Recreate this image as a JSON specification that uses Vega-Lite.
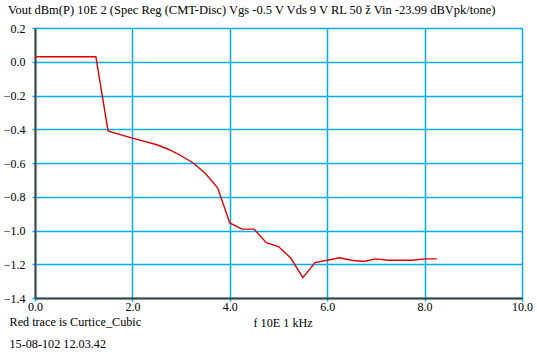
{
  "$schema": "https://vega.github.io/schema/vega-lite/v6.json",
  "width": 487,
  "height": 270,
  "autosize": "none",
  "padding": {"left": 35, "top": 28, "right": 15, "bottom": 59},
  "background": "white",
  "config": {
    "font": "Liberation Serif",
    "view": {"stroke": null},
    "axis": {
      "labelFont": "Liberation Serif",
      "labelFontSize": 12,
      "labelColor": "black",
      "titleFont": "Liberation Serif",
      "titleFontSize": 12.2,
      "titleFontWeight": "normal",
      "titleColor": "black",
      "grid": true,
      "gridColor": "#00aeef",
      "gridWidth": 1.5,
      "gridOpacity": 1,
      "domainColor": "#404040",
      "domainWidth": 2,
      "tickColor": "#00aeef",
      "tickWidth": 1.5,
      "tickSize": 3
    }
  },
  "title": {
    "text": "Vout dBm(P) 10E 2 (Spec Reg (CMT-Disc) Vgs -0.5 V Vds 9 V RL 50 ž Vin -23.99 dBVpk/tone)",
    "anchor": "start",
    "frame": "group",
    "dx": -27,
    "dy": 16,
    "offset": 12,
    "baseline": "alphabetic",
    "font": "Liberation Serif",
    "fontSize": 12.5,
    "fontWeight": "normal",
    "color": "black"
  },
  "data": {
    "values": [
      {"f": 0.0, "vout": 0.03},
      {"f": 0.25, "vout": 0.03},
      {"f": 0.5, "vout": 0.03},
      {"f": 0.75, "vout": 0.03},
      {"f": 1.0, "vout": 0.03},
      {"f": 1.25, "vout": 0.03},
      {"f": 1.5, "vout": -0.41},
      {"f": 1.75, "vout": -0.432},
      {"f": 2.0, "vout": -0.453},
      {"f": 2.25, "vout": -0.472},
      {"f": 2.5, "vout": -0.492},
      {"f": 2.75, "vout": -0.52},
      {"f": 3.0, "vout": -0.557},
      {"f": 3.25, "vout": -0.6},
      {"f": 3.5, "vout": -0.662},
      {"f": 3.75, "vout": -0.747},
      {"f": 4.0, "vout": -0.955},
      {"f": 4.25, "vout": -0.992},
      {"f": 4.5, "vout": -0.992},
      {"f": 4.75, "vout": -1.072},
      {"f": 5.0, "vout": -1.095},
      {"f": 5.25, "vout": -1.163},
      {"f": 5.5, "vout": -1.279},
      {"f": 5.75, "vout": -1.19},
      {"f": 6.0, "vout": -1.176},
      {"f": 6.25, "vout": -1.162},
      {"f": 6.5, "vout": -1.176},
      {"f": 6.75, "vout": -1.184},
      {"f": 7.0, "vout": -1.168},
      {"f": 7.25, "vout": -1.176},
      {"f": 7.5, "vout": -1.176},
      {"f": 7.75, "vout": -1.176},
      {"f": 8.0, "vout": -1.168},
      {"f": 8.25, "vout": -1.168}
    ]
  },
  "mark": {"type": "line", "color": "#e00000", "strokeWidth": 1.4, "clip": true},
  "encoding": {
    "x": {
      "field": "f",
      "type": "quantitative",
      "scale": {"domain": [0, 10], "nice": false, "zero": false},
      "axis": {
        "values": [0, 2, 4, 6, 8, 10],
        "format": ".1f",
        "labelPadding": 0,
        "labelFlush": false,
        "title": "f 10E 1 kHz",
        "titleAnchor": "start",
        "titleAlign": "left",
        "titleBaseline": "alphabetic",
        "titleX": 218,
        "titleY": 28
      }
    },
    "y": {
      "field": "vout",
      "type": "quantitative",
      "scale": {"domain": [-1.4, 0.2], "nice": false, "zero": false},
      "axis": {
        "values": [-1.4, -1.2, -1.0, -0.8, -0.6, -0.4, -0.2, 0, 0.2],
        "format": ".1f",
        "labelPadding": 7,
        "labelFlush": false,
        "labelBaseline": "middle",
        "title": ["Red trace is Curtice_Cubic", "15-08-102 12.03.42"],
        "titleAngle": 0,
        "titleAlign": "left",
        "titleAnchor": "start",
        "titleBaseline": "alphabetic",
        "titleLineHeight": 22.5,
        "titleX": -26,
        "titleY": 297
      }
    }
  }
}
